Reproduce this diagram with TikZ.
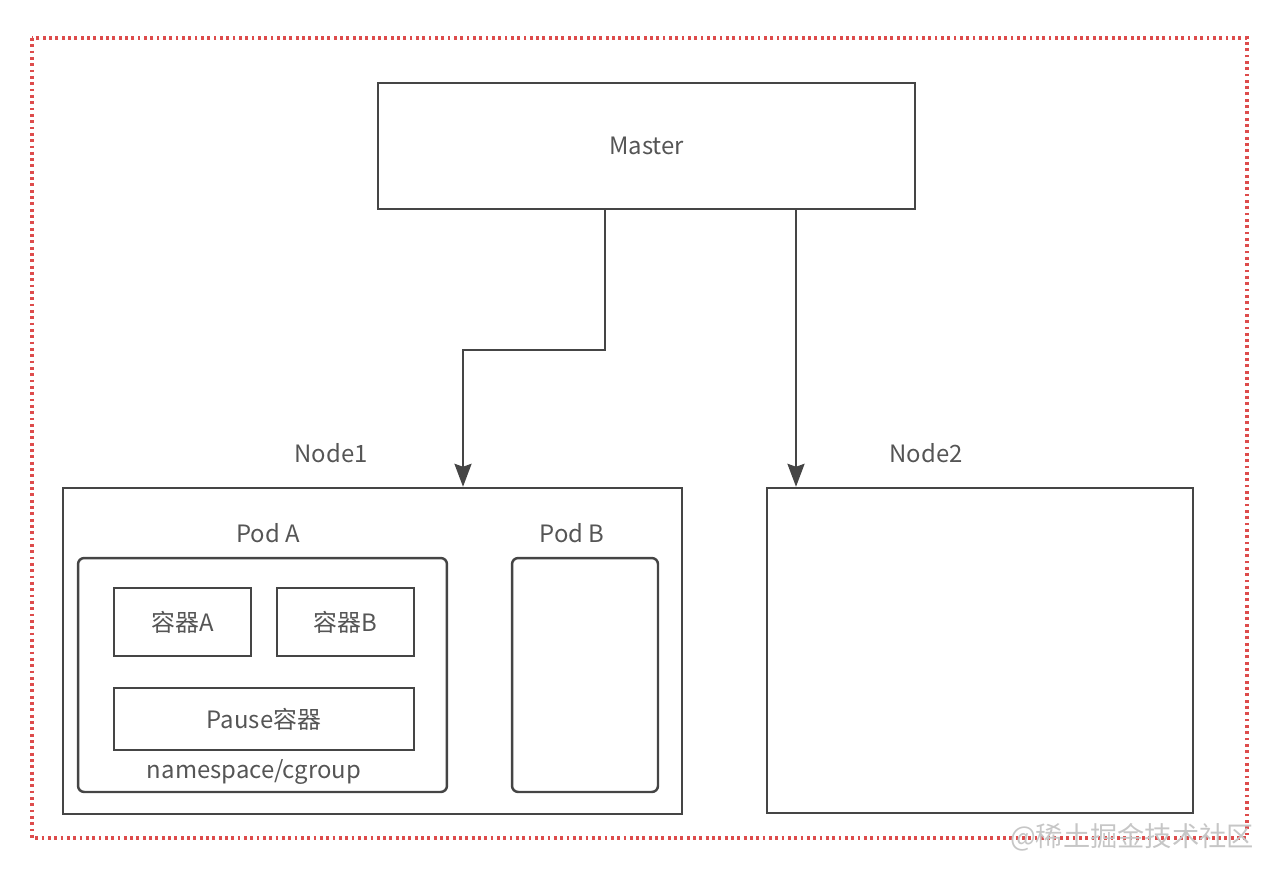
\documentclass[tikz,border=0pt]{standalone}
\usepackage{fontspec}
\setmainfont{Noto Sans CJK SC}
\usepackage{tikz}
\usetikzlibrary{positioning, arrows.meta, calc}
\usepackage[dvipsnames]{xcolor}
\definecolor{boxline}{HTML}{454545}
\definecolor{boxtext}{HTML}{555555}
\definecolor{dotred}{HTML}{DD4C4C}

\begin{document}
\begin{tikzpicture}[>={Stealth[length=4.6mm, width=3.4mm, inset=0.6mm]}, x=0.02cm, y=-0.02cm, every node/.style={font=\fontsize{13.6}{15}\selectfont, text=boxtext}]
\tikzset{
  hostbox/.style={draw=boxline, line width=1.4pt, inner sep=0pt},
  podbox/.style={draw=boxline, line width=1.4pt, rounded corners=3.5pt, inner sep=0pt},
  ctrbox/.style={draw=boxline, line width=1.4pt, inner sep=0pt},
  arr/.style={->, draw=boxline, line width=1.4pt},
}
\useasboundingbox (0,0) rectangle (1280,874);
% cluster frame
\draw[dotred, line width=1.8pt, dash pattern=on 1.6pt off 2pt] (32,38) rectangle (1247,838);
% master
\node[hostbox, minimum width=10.74cm, minimum height=2.52cm] (master) at (646.5,146) {Master};
% worker nodes
\node[hostbox, minimum width=12.38cm, minimum height=6.52cm] (node1) at (372.5,651) {};
\node[hostbox, minimum width=8.52cm, minimum height=6.5cm] (node2) at (980,650.5) {};
\node (node1lbl) at (331,453) {Node1};
\node (node2lbl) at (926,453) {Node2};
% pods
\node[podbox, minimum width=7.38cm, minimum height=4.68cm] (poda) at (262.5,675) {};
\node[podbox, minimum width=2.92cm, minimum height=4.68cm] (podb) at (585,675) {};
\node (podalbl) at (268,533) {Pod A};
\node (podblbl) at (572,533) {Pod B};
% containers
\node[ctrbox, minimum width=2.74cm, minimum height=1.36cm] (ctra) at (182.5,622) {容器A};
\node[ctrbox, minimum width=2.74cm, minimum height=1.36cm] (ctrb) at (345.5,622) {容器B};
\node[ctrbox, minimum width=6cm, minimum height=1.24cm] (pause) at (264,719) {Pause容器};
\node (nslbl) at (254,772) {namespace/cgroup};
% master to nodes
\draw[arr] (605,0 |- master.south) -- (605,350) -| (463,0 |- node1.north);
\draw[arr] (796,0 |- master.south) -- (796,0 |- node2.north);
% watermark
\node[text=gray!45, font=\fontsize{15.5}{17}\selectfont] (mark) at (1132,837) {@稀土掘金技术社区};
\end{tikzpicture}
\end{document}
